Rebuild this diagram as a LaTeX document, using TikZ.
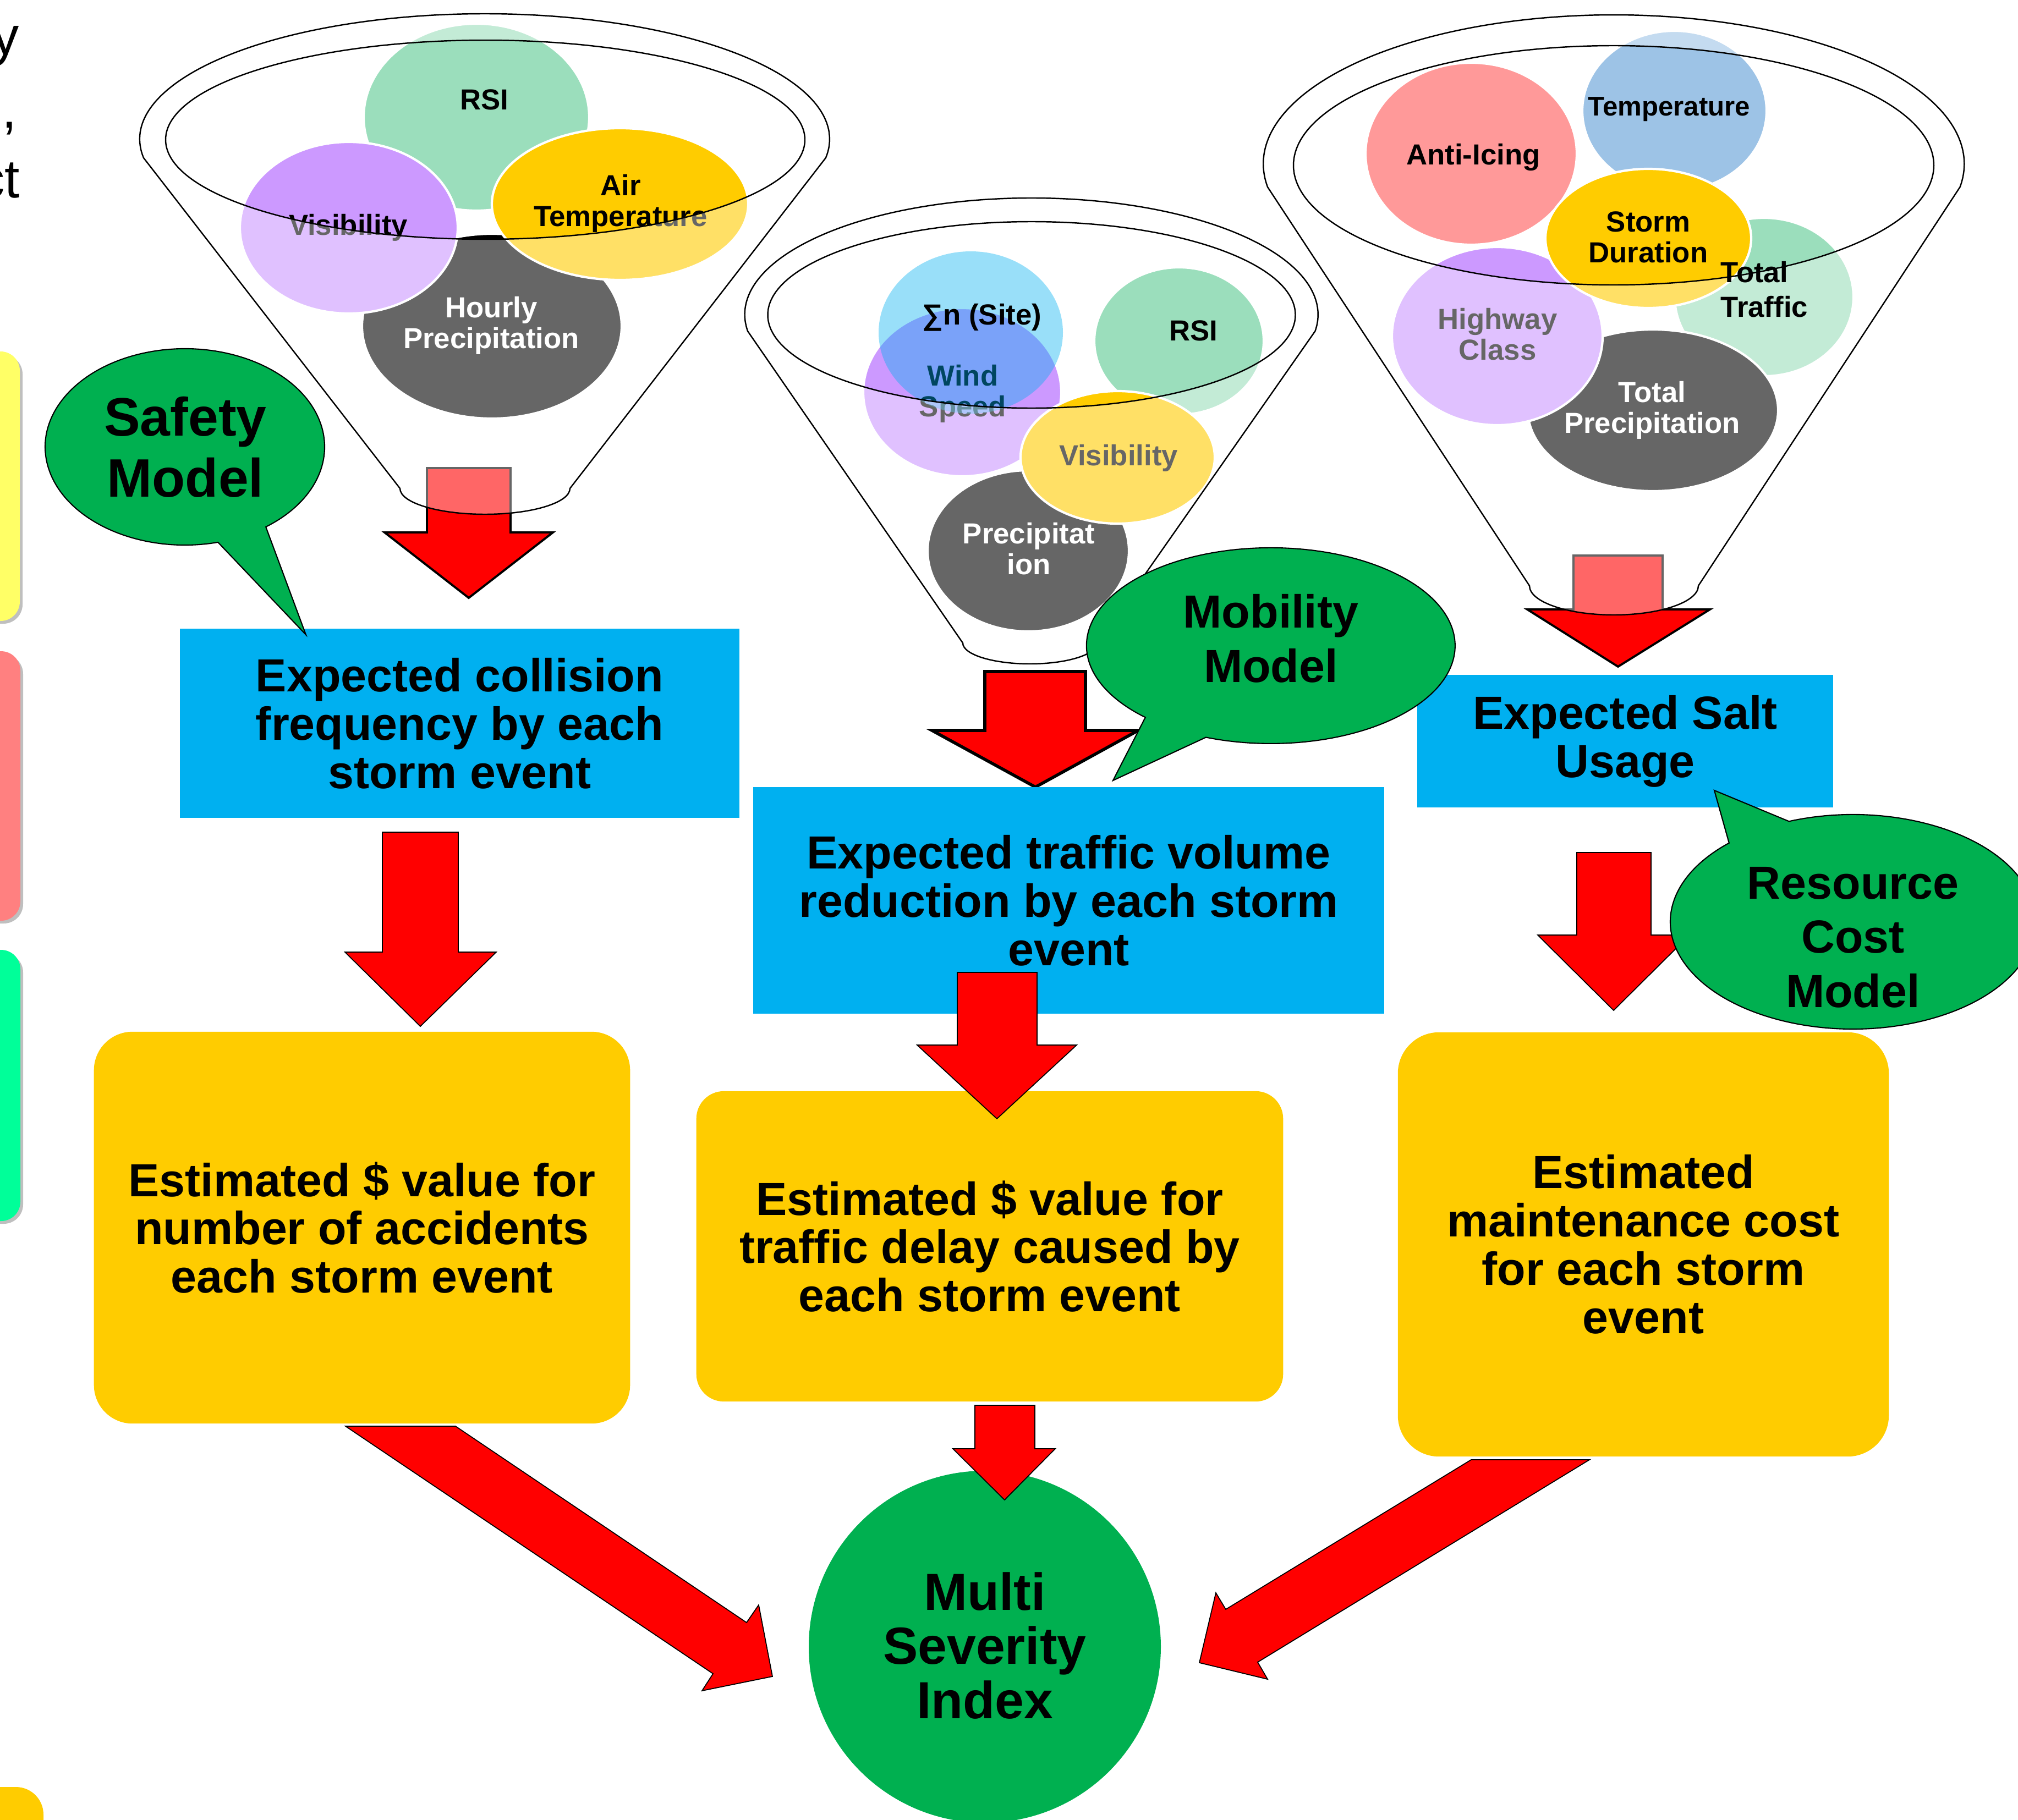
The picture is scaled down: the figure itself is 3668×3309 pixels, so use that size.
\documentclass[tikz,border=0pt]{standalone}
\usepackage{fontspec}
\setmainfont{Liberation Sans}
\definecolor{cBlue}{HTML}{00B0F0}
\definecolor{cYel}{HTML}{FFCC00}
\definecolor{cGreen}{HTML}{00B050}
\definecolor{cPurple}{HTML}{CC99FF}
\definecolor{cMint}{HTML}{9BDEBC}
\definecolor{cSky}{HTML}{9DC3E6}
\definecolor{cPink}{HTML}{FF9999}
\definecolor{cLYel}{HTML}{FFFF66}
\definecolor{cLRed}{HTML}{FF8080}
\definecolor{cLGrn}{HTML}{00FF99}
\begin{document}
\begin{tikzpicture}[x=0.01cm, y=-0.01cm,
  ftxt/.style={font=\fontsize{15}{16}\selectfont\bfseries, align=center, inner sep=0pt},
  btxt/.style={font=\fontsize{24}{25}\selectfont\bfseries, align=center, inner sep=0pt},
  circ/.style={draw=white, line width=1.2pt},
  funnel/.style={fill=white, fill opacity=0.4, draw=black, line width=0.7pt, even odd rule},
  redarrow/.style={fill=red, draw=black, line width=0.5pt, line join=miter},
  bluebox/.style={fill=cBlue, btxt},
  yelbox/.style={fill=cYel, btxt},
  bubble/.style={fill=cGreen, draw=black, line width=0.6pt},
  bubtxt/.style={font=\fontsize{24}{28}\selectfont\bfseries, align=center, inner sep=0pt},
  lefttxt/.style={font=\fontsize{28}{37}\selectfont, anchor=base east, inner sep=0pt}
]
\useasboundingbox (0,0) rectangle (3668,3309);
\clip (0,0) rectangle (3668,3309);

% ---------- left partial elements ----------
\node[lefttxt] (l1) at (35,100) {y};
\node[lefttxt] (l2) at (32,232) {,};
\node[lefttxt] (l3) at (37,360) {ct};
\fill[black!25, rounded corners=0.35cm] (-200,645) rectangle (41,1134);
\fill[cLYel, rounded corners=0.35cm] (-200,639) rectangle (36,1129);
\fill[black!25, rounded corners=0.35cm] (-200,1190) rectangle (42,1679);
\fill[cLRed, rounded corners=0.35cm] (-200,1184) rectangle (37,1674);
\fill[black!25, rounded corners=0.35cm] (-200,1733) rectangle (42,2225);
\fill[cLGrn, rounded corners=0.35cm] (-200,1727) rectangle (37,2220);
\fill[cYel, rounded corners=0.5cm] (-200,3249) rectangle (79,3500);

% ---------- funnel 1 ----------
\filldraw[circ, fill=cMint] (866,213) ellipse [x radius=205, y radius=170];
\filldraw[circ, fill=black] (894,593) ellipse [x radius=236, y radius=168];
\filldraw[circ, fill=cPurple] (634,414) ellipse [x radius=198, y radius=156];
\filldraw[circ, fill=cYel] (1127,371) ellipse [x radius=233, y radius=138];
\node[ftxt] (f1rsi) at (880,181) {RSI};
\node[ftxt] (f1vis) at (633,414) {Visibility};
\node[ftxt] (f1air) at (1128,370) {Air\\Temperature};
\node[ftxt, text=white] (f1hp) at (893,592) {Hourly\\Precipitation};
\draw[redarrow, line width=1.1pt] (776,851) -- (928,851) -- (928,968) -- (1005,968) -- (852,1087) -- (699,968) -- (776,968) -- cycle;
\path[funnel] (261,287) arc[start angle=171.42, end angle=368.58, x radius=627, y radius=228] -- (1036,888) arc[start angle=0, end angle=180, x radius=154.5, y radius=47] -- cycle (882,254) ellipse [x radius=581, y radius=181];

% ---------- funnel 2 ----------
\filldraw[circ, fill=cMint] (2143,620) ellipse [x radius=154, y radius=134];
\filldraw[circ, fill=black] (1869,1001.5) ellipse [x radius=183, y radius=146.5];
\filldraw[circ, fill=cPurple] (1749,713) ellipse [x radius=180, y radius=153];
\node[ftxt] (f2ws) at (1750,716) {Wind\\Speed};
\fill[cBlue, fill opacity=0.4] (1764.5,604.5) ellipse [x radius=167.5, y radius=147.5];
\filldraw[circ, fill=cYel] (2031.5,831.5) ellipse [x radius=176.5, y radius=120.5];
\node[ftxt] (f2site) at (1785,577) {∑n (Site)};
\node[ftxt] (f2rsi) at (2169,601) {RSI};
\node[ftxt] (f2vis) at (2033,833) {Visibility};
\node[ftxt, text=white] (f2pr) at (1870,998) {Precipitat\\ion};
\path[funnel] (1359,602) arc[start angle=171.86, end angle=368.14, x radius=521, y radius=212] -- (1994,1169) arc[start angle=0, end angle=180, x radius=122, y radius=38] -- cycle (1875,572.5) ellipse [x radius=479.5, y radius=169.5];

% ---------- funnel 3 ----------
\filldraw[circ, fill=cSky] (3043.5,201.5) ellipse [x radius=167.5, y radius=145.5];
\filldraw[circ, fill=cPink] (2674,279.5) ellipse [x radius=192, y radius=165.5];
\filldraw[circ, fill=cMint] (3206.5,540) ellipse [x radius=162.5, y radius=144];
\filldraw[circ, fill=black] (3004.5,746) ellipse [x radius=227.5, y radius=147];
\filldraw[circ, fill=cPurple] (2721.5,611) ellipse [x radius=191.5, y radius=162];
\filldraw[circ, fill=cYel] (2996,433.5) ellipse [x radius=187, y radius=126.5];
\node[ftxt] (f3ai) at (2678,286) {Anti-Icing};
\node[ftxt, font=\fontsize{14}{15}\selectfont\bfseries] (f3tmp) at (3034,199) {Temperature};
\node[ftxt] (f3sd) at (2996,431) {Storm\\Duration};
\node[ftxt] (f3hc) at (2722,608) {Highway\\Class};
\node[ftxt, text=white] (f3tp) at (3003,746) {Total\\Precipitation};
\draw[redarrow, line width=1.1pt] (2860,1010) -- (3022,1010) -- (3022,1108) -- (3108,1108) -- (2941,1212) -- (2776,1108) -- (2860,1108) -- cycle;
\path[funnel] (2304,340) arc[start angle=171.09, end angle=368.91, x radius=637, y radius=271] -- (3087,1065) arc[start angle=0, end angle=180, x radius=153.5, y radius=53] -- cycle (2933,300.5) ellipse [x radius=582, y radius=217.5];
\node[ftxt, anchor=base west] (f3tt1) at (3127,513) {Total};
\node[ftxt, anchor=base west] (f3tt2) at (3127,576) {Traffic};

% ---------- arrow out of funnel 2 ----------
\draw[redarrow, line width=1.6pt] (1790,1221) -- (1973,1221) -- (1973,1328) -- (2069,1328) -- (1882,1431) -- (1694,1328) -- (1790,1328) -- cycle;

% ---------- blue boxes ----------
\node[bluebox, minimum width=10.17cm, minimum height=3.44cm] (b1) at (835.5,1315) {Expected collision\\frequency by each\\storm event};
\node[bluebox, minimum width=11.47cm, minimum height=4.12cm] (b2) at (1942.5,1637) {Expected traffic volume\\reduction by each storm\\event};
\node[bluebox, minimum width=7.56cm, minimum height=2.41cm] (b3) at (2954,1347.5) {Expected Salt\\Usage};

% ---------- yellow boxes ----------
\node[yelbox, rounded corners=0.7cm, minimum width=9.74cm, minimum height=7.12cm] (yA) at (658,2232) {Estimated \$ value for\\number of accidents\\each storm event};
\node[yelbox, rounded corners=0.5cm, minimum width=10.66cm, minimum height=5.64cm] (yB) at (1799,2266) {Estimated \$ value for\\traffic delay caused by\\each storm event};
\node[yelbox, rounded corners=0.75cm, minimum width=8.92cm, minimum height=7.71cm] (yC) at (2987,2262.5) {Estimated\\maintenance cost\\for each storm\\event};

% ---------- arrows between boxes ----------
\draw[redarrow] (695,1513) -- (833,1513) -- (833,1731) -- (902,1731) -- (764,1866) -- (627,1731) -- (695,1731) -- cycle;
\draw[redarrow] (1740,1768) -- (1885,1768) -- (1885,1900) -- (1957,1900) -- (1812,2034) -- (1667,1900) -- (1740,1900) -- cycle;
\draw[redarrow] (2866,1550) -- (3001,1550) -- (3001,1700) -- (3071,1700) -- (2933,1837) -- (2795,1700) -- (2866,1700) -- cycle;

% ---------- multi severity index ----------
\fill[cGreen] (1790,2994) circle [radius=320];
\node[font=\fontsize{27}{28}\selectfont\bfseries, align=center, inner sep=0pt] (msi) at (1790,2992) {Multi\\Severity\\Index};
\draw[redarrow] (628,2593) -- (828,2593) -- (1357,2950) -- (1379,2918) -- (1404,3048) -- (1276,3074) -- (1296,3043) -- cycle;
\draw[redarrow] (1772,2555) -- (1881,2555) -- (1881,2634) -- (1918,2634) -- (1826,2727) -- (1732,2634) -- (1772,2634) -- cycle;
\draw[redarrow] (2674,2654) -- (2889,2654) -- (2286,3022) -- (2304,3053) -- (2180,3023) -- (2210,2896) -- (2228,2926) -- cycle;

% ---------- speech bubbles ----------
\path[bubble] (396.2,985.9) arc[start angle=76.3, end angle=414.6, x radius=254, y radius=178.5] -- (556,1154) -- cycle;
\node[font=\fontsize{28}{31.5}\selectfont\bfseries, align=center, inner sep=0pt] (safety) at (337,813) {Safety\\Model};
\path[bubble] (2081.8,1304.3) arc[start angle=132.9, end angle=470.6, x radius=335, y radius=178] -- (2023,1419) -- cycle;
\node[bubtxt] (mobility) at (2310,1161) {Mobility\\Model};
\path[bubble] (3251.7,1493.3) arc[start angle=249.5, end angle=587.3, x radius=332, y radius=195] -- (3116,1437) -- cycle;
\node[bubtxt] (resource) at (3368,1704) {Resource\\Cost\\Model};
\end{tikzpicture}
\end{document}
